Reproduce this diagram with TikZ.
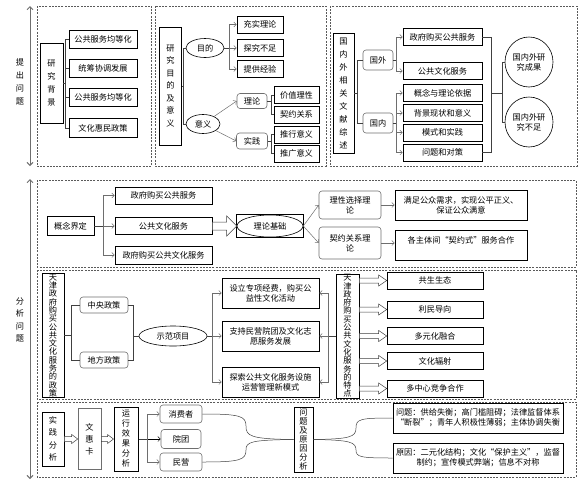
\documentclass[tikz,border=0pt]{standalone}
\usepackage{fontspec}
\setmainfont{Noto Sans CJK SC}
\usepackage{tikz}
\usetikzlibrary{arrows.meta,shapes.geometric,calc}
\definecolor{linegray}{RGB}{110,110,110}
\definecolor{framegray}{RGB}{90,90,90}
\lineskiplimit=-10pt
\newcommand{\hollowarr}[5]{%
  \path (#1) coordinate (ha) (#2) coordinate (hb);
  \draw[hollow] ($(ha)+(0,#3)$) -- ($(hb)+(-#5,#3)$) -- ($(hb)+(-#5,#4)$) -- (hb)
    -- ($(hb)+(-#5,-#4)$) -- ($(hb)+(-#5,-#3)$) -- ($(ha)+(0,-#3)$) -- cycle;}

\begin{document}
\begin{tikzpicture}[x=1pt, y=-1pt,
    box/.style={draw, line width=0.6pt, inner sep=1pt, align=center, font=\fontsize{8.2}{10}\selectfont},
    rbox/.style={box, draw=linegray, rounded corners=3pt},
    vbox/.style={box, inner sep=0pt, font=\fontsize{8.2}{#1}\selectfont},
    oval/.style={draw, ellipse, line width=0.6pt, inner sep=0pt, align=center, font=\fontsize{8.2}{10}\selectfont},
    lbl/.style={align=center, inner sep=0pt, font=\fontsize{8.2}{#1}\selectfont},
    frame/.style={draw=framegray, dash pattern=on 2pt off 1.2pt, line width=0.5pt},
    link/.style={draw=black!75, line width=0.5pt},
    arrow/.style={-{Straight Barb[length=2.5pt,width=5pt]}, draw=linegray, line width=0.5pt},
    side/.style={{Straight Barb[length=3pt,width=6pt]}-{Straight Barb[length=3pt,width=6pt]}, draw=linegray, line width=1pt},
    hollow/.style={draw=black!75, fill=white, line width=0.5pt}
]
\useasboundingbox (0,0) rectangle (586,485);

\coordinate (a1) at (30,6);
\coordinate (a2) at (30,166);
\coordinate (a3) at (30,179);
\coordinate (a4) at (30,479);
\draw[side] (a1) -- (a2);
\draw[side] (a3) -- (a4);
\node[lbl=13pt] (tcwt) at (20,82) {提\\出\\问\\题};
\node[lbl=12.5pt] (fxwt) at (20,320) {分\\析\\问\\题};

\draw[frame] (37,6) rectangle (151,166);
\draw[frame] (155,6) rectangle (326,166);
\draw[frame] (330,6) rectangle (577,166);
\draw[frame] (37,180) rectangle (576,267);
\draw[frame] (37,270) rectangle (576,399);
\draw[frame] (37,402) rectangle (576,477);

\node[vbox=13pt, minimum width=23, minimum height=80] (yjbj) at (51.5,83) {研\\究\\背\\景};
\node[box, minimum width=68, minimum height=18] (b1) at (103,39) {公共服务均等化};
\node[box, minimum width=68, minimum height=18] (b2) at (103,68.5) {统筹协调发展};
\node[box, minimum width=68, minimum height=18] (b3) at (103,97.5) {公共服务均等化};
\node[box, minimum width=68, minimum height=19] (b4) at (103,128) {文化惠民政策};
\draw[link] (b1.west) -- ++(-3,0) coordinate (k1) -- (k1 |- b4.west) -- (b4.west);
\draw[link] (b2.west) -- (b2.west -| k1);
\draw[link] (b3.west) -- (b3.west -| k1);
\draw[link] (yjbj.east) -- (yjbj.east -| k1);

\node[vbox=12.5pt, minimum width=22, minimum height=118] (mdyy) at (170.5,86) {研\\究\\目\\的\\及\\意\\义};
\node[oval, minimum width=38, minimum height=19] (md) at (205,48) {目的};
\node[oval, minimum width=34, minimum height=19] (yy) at (203,124) {意义};
\draw[link] (md.west) -- ++(-2,0) coordinate (k2) -- (k2 |- yy.west) -- (yy.west);
\draw[link] (mdyy.east) -- (mdyy.east -| k2);
\node[box, minimum width=46, minimum height=17] (g1) at (260,24.5) {充实理论};
\node[box, minimum width=46, minimum height=17] (g2) at (260,48) {探究不足};
\node[box, minimum width=46, minimum height=17] (g3) at (260,69) {提供经验};
\draw[link] (md.east) -- ++(5,0) coordinate (k3);
\draw[arrow] (k3) |- (g1.west);
\draw[arrow] (k3) -- (g2.west);
\draw[arrow] (k3) |- (g3.west);
\node[rbox, minimum width=30, minimum height=15] (ll) at (252,101) {理论};
\node[rbox, minimum width=31, minimum height=16] (sj) at (252,141) {实践};
\draw[arrow] (yy) -- (ll.west);
\draw[arrow] (yy) -- (sj.west);
\node[box, minimum width=45, minimum height=17] (v1) at (296.5,95) {价值理性};
\node[box, minimum width=45, minimum height=17] (v2) at (296.5,114.5) {契约关系};
\node[box, minimum width=45, minimum height=17] (v3) at (296.5,134.5) {推行意义};
\node[box, minimum width=45, minimum height=17] (v4) at (296.5,153.5) {推广意义};
\draw[link] (v1.west) -- ++(-2.5,0) coordinate (k4) -- (k4 |- v2.west) -- (v2.west);
\draw[link] (ll.east) -- (ll.east -| k4);
\draw[link] (v3.west) -- (v3.west -| k4) -- (k4 |- v4.west) -- (v4.west);
\draw[link] (sj.east) -- (sj.east -| k4);

\node[vbox=13pt, minimum width=21, minimum height=120] (wxzs) at (343.5,93) {国\\内\\外\\相\\关\\文\\献\\综\\述};
\node[rbox, minimum width=30, minimum height=20] (gwai) at (378,60) {国外};
\node[rbox, minimum width=30, minimum height=20] (gnei) at (378,123) {国内};
\draw[link] (gwai.west) -- ++(-5,0) coordinate (k5) -- (k5 |- gnei.west) -- (gnei.west);
\draw[link] (wxzs.east) -- (wxzs.east -| k5);
\node[box, minimum width=79, minimum height=17] (w1) at (442.5,37) {政府购买公共服务};
\node[box, minimum width=79, minimum height=17] (w2) at (442.5,71) {公共文化服务};
\node[box, minimum width=79, minimum height=17] (n1) at (442.5,93) {概念与理论依据};
\node[box, minimum width=79, minimum height=17] (n2) at (442.5,113) {背景现状和意义};
\node[box, minimum width=79, minimum height=17] (n3) at (442.5,132.5) {模式和实践};
\node[box, minimum width=79, minimum height=17] (n4) at (442.5,152.5) {问题和对策};
\draw[link] (gwai.east) -- ++(3,0) coordinate (k6);
\draw[arrow] (k6) |- (w1.west);
\draw[arrow] (k6) |- (w2.west);
\draw[link] (gnei.east) -- ++(3,0) coordinate (k7);
\draw[arrow] (k7) |- (n1.west);
\draw[arrow] (k7) |- (n2.west);
\draw[arrow] (k7) |- (n3.west);
\draw[arrow] (k7) |- (n4.west);
\node[oval, minimum width=48, minimum height=50] (e1) at (529,62) {国内外研\\究成果};
\node[oval, minimum width=48, minimum height=50] (e2) at (529,122) {国内外研\\究不足};
\draw[link] (w1.east) -- ++(9,0) coordinate (k8) -- (k8 |- n4.east) -- (n4.east);
\draw[link] (e1.west) -- ++(-2,0) coordinate (k9) -- (k9 |- e2.west) -- (e2.west);
\draw[link] (k8 |- wxzs.east) -- (k9 |- wxzs.east);

\node[box, minimum width=47, minimum height=19] (gnjd) at (70.5,226) {概念界定};
\node[box, minimum width=97, minimum height=17] (c1) at (163.5,195.5) {政府购买公共服务};
\node[box, minimum width=97, minimum height=17] (c2) at (163.5,226) {公共文化服务};
\node[box, minimum width=97, minimum height=18] (c3) at (163.5,255) {政府购买公共文化服务};
\draw[link] (gnjd.east) -- ++(9,0) coordinate (k10);
\draw[arrow] (k10) |- (c1.west);
\draw[arrow] (k10) -- (c2.west);
\draw[arrow] (k10) |- (c3.west);
\node[oval, minimum width=66, minimum height=22] (lljc) at (270,226) {理论基础};
\draw[line width=0.6pt] (lljc.west |- lljc.north) rectangle (lljc.east |- lljc.south);
\hollowarr{c2.east}{lljc.west}{4}{10}{10}
\node[rbox, minimum width=62, minimum height=28] (xz1) at (350,205) {理性选择理\\论};
\node[rbox, minimum width=62, minimum height=32] (xz2) at (350,243) {契约关系理\\论};
\draw[arrow] (lljc.east) -- (xz1.west);
\draw[arrow] (lljc.east) -- (xz2.west);
\node[box, minimum width=132, minimum height=30] (r1) at (461,205) {满足公众需求，实现公平正义、\\保证公众满意};
\node[box, minimum width=132, minimum height=30, text depth=9pt] (r2) at (461,245) {各主体间“契约式”服务合作};
\draw[arrow] (xz1.east) -- (r1.west);
\draw[arrow] (xz2.east) -- (xz2.east -| r2.west);

\node[vbox=8.3pt, minimum width=22, minimum height=124] (zc) at (53,335.5) {天\\津\\政\\府\\购\\买\\公\\共\\文\\化\\服\\务\\的\\政\\策};
\node[rbox, minimum width=48, minimum height=16] (zy) at (104,305) {中央政策};
\node[rbox, minimum width=48, minimum height=16] (df) at (104,360) {地方政策};
\draw[link] (zy.west) -- ++(-8,0) coordinate (k11) -- (k11 |- df.west) -- (df.west);
\draw[link] (zc.east) -- (zc.east -| k11);
\node[oval, minimum width=68, minimum height=20] (sfxm) at (173,336) {示范项目};
\draw[link] (zy.east) -- ++(5,0) coordinate (k12) -- (k12 |- df.east) -- (df.east);
\draw[link] (k12 |- sfxm.west) -- (sfxm.west);
\node[box, minimum width=97, minimum height=30] (p1) at (270.5,293) {设立专项经费，购买公\\益性文化活动};
\node[box, minimum width=97, minimum height=30] (p2) at (270.5,336) {支持民营院团及文化志\\愿服务发展};
\node[box, minimum width=97, minimum height=30] (p3) at (270.5,382) {探索公共文化服务设施\\运营管理新模式};
\draw[link] (sfxm.east) -- ++(5,0) coordinate (k13);
\draw[arrow] (k13) |- (p1.west);
\draw[arrow] (k13) -- (p2.west);
\draw[arrow] (k13) |- (p3.west);
\node[vbox=8.3pt, minimum width=23, minimum height=124] (tz) at (347.5,336) {天\\津\\政\\府\\购\\买\\公\\共\\文\\化\\服\\务\\的\\特\\点};
\draw[link] (tz.west) -- ++(-7,0) coordinate (k14);
\draw[arrow] (k14) |- (p1.east);
\draw[arrow] (k14) -- (p2.east);
\draw[arrow] (k14) |- (p3.east);
\node[box, minimum width=96, minimum height=17] (t1) at (435,280.5) {共生生态};
\node[box, minimum width=96, minimum height=17] (t2) at (435,309.5) {利民导向};
\node[box, minimum width=96, minimum height=17] (t3) at (435,336) {多元化融合};
\node[box, minimum width=96, minimum height=17] (t4) at (435,361) {文化辐射};
\node[box, minimum width=96, minimum height=17] (t5) at (435,388.5) {多中心竞争合作};
\hollowarr{tz.east |- t1.west}{t1.west}{2.5}{5.5}{8}
\hollowarr{tz.east |- t2.west}{t2.west}{2.5}{5.5}{8}
\hollowarr{tz.east |- t3.west}{t3.west}{2.5}{5.5}{8}
\hollowarr{tz.east |- t4.west}{t4.west}{2.5}{5.5}{8}
\hollowarr{tz.east |- t5.west}{t5.west}{2.5}{5.5}{8}

\node[vbox=12.5pt, minimum width=22, minimum height=54] (sjfx) at (53,439) {实\\践\\分\\析};
\node[vbox=12pt, draw=linegray, minimum width=23, minimum height=61] (whk) at (89.5,439) {文\\惠\\卡};
\node[vbox=10pt, line width=1pt, minimum width=24, minimum height=64] (yxfx) at (126,439) {运\\行\\效\\果\\分\\析};
\hollowarr{sjfx.east}{whk.west}{2.5}{4.5}{6}
\hollowarr{whk.east}{yxfx.west}{2.5}{4.5}{6}
\node[rbox, minimum width=42, minimum height=18] (xfz) at (181,414) {消费者};
\node[rbox, minimum width=40, minimum height=19] (yt) at (181,439) {院团};
\node[rbox, minimum width=42, minimum height=18] (my) at (181,462) {民营};
\draw[link] (yxfx.east) -- ++(9,0) coordinate (k15);
\draw[arrow] (k15) |- (xfz.west);
\draw[arrow, draw=black] (k15) -- (yt.west);
\draw[arrow] (k15) |- (my.west);
\node[vbox=9pt, minimum width=19, minimum height=65] (wtfx) at (303.5,439.5) {问\\题\\及\\原\\因\\分\\析};
\draw[link] (xfz.east) .. controls (240,414) and (246,416) .. (246,426) .. controls (246,436) and (250,439) .. (wtfx.west);
\draw[link] (my.east) .. controls (240,462) and (246,460) .. (246,450) .. controls (246,442) and (250,440) .. (wtfx.west);
\node[box, minimum width=170, minimum height=30] (q1) at (478,418) {问题：供给失衡；高门槛阻碍；法律监督体系\\“断裂”；青年人积极性薄弱；主体协调失衡};
\node[box, minimum width=170, minimum height=30] (q2) at (478,458) {原因：二元化结构；文化“保护主义”，监督\\制约；宣传模式弊端；信息不对称};
\draw[link] (wtfx.east) .. controls (350,439) and (356,437) .. (356,428) .. controls (356,419) and (360,418) .. (q1.west);
\draw[link] (wtfx.east) .. controls (350,440) and (356,442) .. (356,450) .. controls (356,457) and (360,458) .. (q2.west);
\end{tikzpicture}
\end{document}
